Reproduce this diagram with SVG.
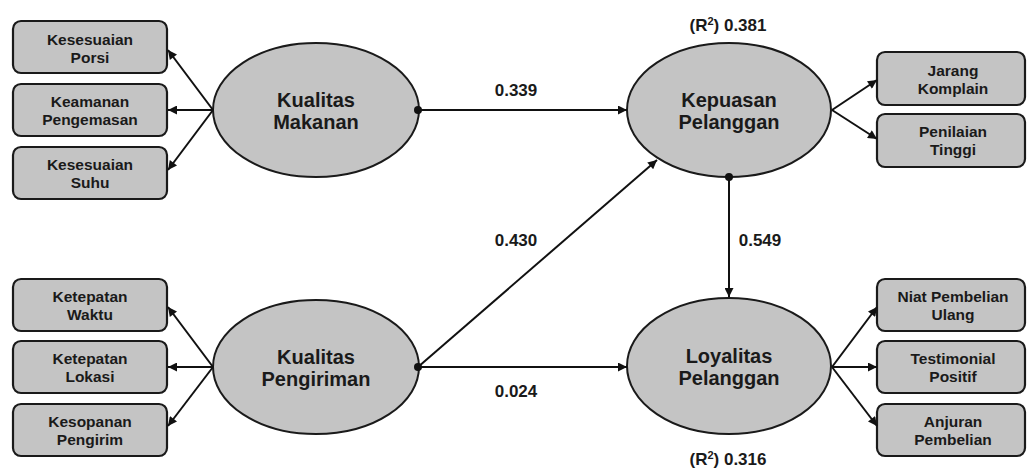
<svg xmlns="http://www.w3.org/2000/svg" width="1027" height="468" viewBox="0 0 1027 468">
<style>
.box{fill:#c4c4c4;stroke:#1a1a1a;stroke-width:2.2}
.ell{fill:#c4c4c4;stroke:#1a1a1a;stroke-width:2}
.bt{font-family:"Liberation Sans",Arial,sans-serif;font-weight:bold;font-size:15.5px;fill:#1a1a1a;text-anchor:middle}
.et{font-family:"Liberation Sans",Arial,sans-serif;font-weight:bold;font-size:20px;fill:#1a1a1a;text-anchor:middle}
.lt{font-family:"Liberation Sans",Arial,sans-serif;font-weight:bold;font-size:17px;fill:#1a1a1a;text-anchor:middle}
.ln{stroke:#111;stroke-width:2;fill:none;marker-end:url(#ah)}
</style>
<defs>
<marker id="ah" viewBox="0 0 10 10" refX="10" refY="5" markerWidth="11" markerHeight="9" markerUnits="userSpaceOnUse" orient="auto">
<path d="M0,0 L10,5 L0,10 z" fill="#111"/>
</marker>
</defs>
<rect width="1027" height="468" fill="#fff"/>
<g id="kualitas-makanan">
<ellipse class="ell" cx="316" cy="110" rx="103" ry="67"/>
<text class="et" x="316" y="107">Kualitas</text>
<text class="et" x="316" y="129">Makanan</text>
</g>
<g id="kualitas-pengiriman">
<ellipse class="ell" cx="316" cy="367" rx="103" ry="67"/>
<text class="et" x="316" y="364">Kualitas</text>
<text class="et" x="316" y="386">Pengiriman</text>
</g>
<g id="kepuasan-pelanggan">
<ellipse class="ell" cx="729" cy="110" rx="102" ry="67"/>
<text class="et" x="729" y="107">Kepuasan</text>
<text class="et" x="729" y="129">Pelanggan</text>
<text class="lt" x="728" y="31">(R<tspan font-size="11" dy="-6">2</tspan><tspan dy="6">) 0.381</tspan></text>
</g>
<g id="loyalitas-pelanggan">
<ellipse class="ell" cx="729" cy="366" rx="102" ry="68"/>
<text class="et" x="729" y="363">Loyalitas</text>
<text class="et" x="729" y="385">Pelanggan</text>
<text class="lt" x="728" y="465">(R<tspan font-size="11" dy="-6">2</tspan><tspan dy="6">) 0.316</tspan></text>
</g>
<g id="kesesuaian-porsi">
<rect class="box" x="13" y="21" width="154" height="52" rx="8"/>
<text class="bt" x="90" y="45">Kesesuaian</text>
<text class="bt" x="90" y="63">Porsi</text>
</g>
<g id="keamanan-pengemasan">
<rect class="box" x="13" y="84" width="154" height="52" rx="8"/>
<text class="bt" x="90" y="107">Keamanan</text>
<text class="bt" x="90" y="125">Pengemasan</text>
</g>
<g id="kesesuaian-suhu">
<rect class="box" x="13" y="147" width="154" height="52" rx="8"/>
<text class="bt" x="90" y="170">Kesesuaian</text>
<text class="bt" x="90" y="188">Suhu</text>
</g>
<g id="ketepatan-waktu">
<rect class="box" x="13" y="279" width="154" height="52" rx="8"/>
<text class="bt" x="90" y="302">Ketepatan</text>
<text class="bt" x="90" y="320">Waktu</text>
</g>
<g id="ketepatan-lokasi">
<rect class="box" x="13" y="341" width="154" height="52" rx="8"/>
<text class="bt" x="90" y="364">Ketepatan</text>
<text class="bt" x="90" y="382">Lokasi</text>
</g>
<g id="kesopanan-pengirim">
<rect class="box" x="13" y="404" width="154" height="52" rx="8"/>
<text class="bt" x="90" y="427">Kesopanan</text>
<text class="bt" x="90" y="445">Pengirim</text>
</g>
<g id="jarang-komplain">
<rect class="box" x="877" y="52" width="148" height="53" rx="8"/>
<text class="bt" x="953" y="76">Jarang</text>
<text class="bt" x="953" y="94">Komplain</text>
</g>
<g id="penilaian-tinggi">
<rect class="box" x="877" y="114" width="148" height="53" rx="8"/>
<text class="bt" x="953" y="137">Penilaian</text>
<text class="bt" x="953" y="155">Tinggi</text>
</g>
<g id="niat-pembelian-ulang">
<rect class="box" x="877" y="279" width="148" height="52" rx="8"/>
<text class="bt" x="953" y="302">Niat Pembelian</text>
<text class="bt" x="953" y="320">Ulang</text>
</g>
<g id="testimonial-positif">
<rect class="box" x="877" y="341" width="148" height="52" rx="8"/>
<text class="bt" x="953" y="364">Testimonial</text>
<text class="bt" x="953" y="382">Positif</text>
</g>
<g id="anjuran-pembelian">
<rect class="box" x="877" y="404" width="148" height="52" rx="8"/>
<text class="bt" x="953" y="427">Anjuran</text>
<text class="bt" x="953" y="445">Pembelian</text>
</g>
<g id="connectors">
<line class="ln" x1="213" y1="110" x2="168" y2="50"/>
<line class="ln" x1="213" y1="110" x2="168" y2="110"/>
<line class="ln" x1="213" y1="110" x2="168" y2="170"/>
<line class="ln" x1="213" y1="367" x2="168" y2="307"/>
<line class="ln" x1="213" y1="367" x2="168" y2="367"/>
<line class="ln" x1="213" y1="367" x2="168" y2="426"/>
<line class="ln" x1="832" y1="110" x2="877" y2="80"/>
<line class="ln" x1="832" y1="110" x2="877" y2="139"/>
<line class="ln" x1="832" y1="367" x2="877" y2="307"/>
<line class="ln" x1="832" y1="367" x2="877" y2="367"/>
<line class="ln" x1="832" y1="367" x2="877" y2="426"/>
<line class="ln" x1="418" y1="110" x2="627" y2="110"/>
<line class="ln" x1="418" y1="367" x2="657" y2="160"/>
<line class="ln" x1="418" y1="367" x2="627" y2="367"/>
<line class="ln" x1="729" y1="177" x2="729" y2="297"/>
<circle cx="418" cy="110" r="4" fill="#111"/>
<circle cx="418" cy="367" r="4" fill="#111"/>
<circle cx="729" cy="177" r="4" fill="#111"/>
<text class="lt" x="516" y="96">0.339</text>
<text class="lt" x="516" y="246">0.430</text>
<text class="lt" x="516" y="397">0.024</text>
<text class="lt" x="760" y="246">0.549</text>
</g>
</svg>
